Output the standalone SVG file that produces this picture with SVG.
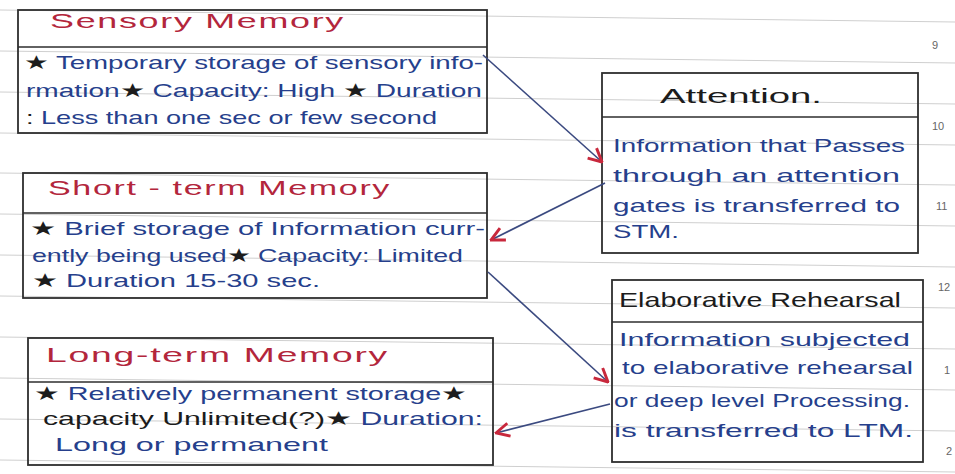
<svg xmlns="http://www.w3.org/2000/svg" width="955" height="474" viewBox="0 0 955 474">
<style>
.rule{stroke:#cfcfcf;stroke-width:1;fill:none}
.pg{font-family:"Liberation Sans",Arial,sans-serif;font-size:11px;fill:#666}
.box{fill:none;stroke:#2e2e2e;stroke-width:1.8}
.div{stroke:#2e2e2e;stroke-width:1.6}
.hd{font-family:"Liberation Sans",Arial,sans-serif;font-size:21px;fill:#b3263c;letter-spacing:1px}
.hk{font-family:"Liberation Sans",Arial,sans-serif;font-size:21px;fill:#1c1c1c}
.bd{font-family:"Liberation Sans",Arial,sans-serif;font-size:19px;fill:#263f8c}
.k{fill:#1c1c1c}
.conn{stroke:#3b4a80;stroke-width:1.6;fill:none}
</style>
<defs>
<marker id="ah" viewBox="0 0 12 12" refX="11" refY="6" markerWidth="16" markerHeight="16" markerUnits="userSpaceOnUse" orient="auto">
<path d="M1,1 L11,6 L1,11" fill="none" stroke="#c8283c" stroke-width="2.2"/>
</marker>
</defs>
<rect width="955" height="474" fill="#ffffff"/>
<g id="paper">
<line class="rule" x1="0" y1="10" x2="955" y2="22"/>
<line class="rule" x1="0" y1="51" x2="955" y2="63"/>
<line class="rule" x1="0" y1="92" x2="955" y2="104"/>
<line class="rule" x1="0" y1="133" x2="955" y2="145"/>
<line class="rule" x1="0" y1="173" x2="955" y2="185"/>
<line class="rule" x1="0" y1="214" x2="955" y2="226"/>
<line class="rule" x1="0" y1="255" x2="955" y2="267"/>
<line class="rule" x1="0" y1="296" x2="955" y2="308"/>
<line class="rule" x1="0" y1="337" x2="955" y2="349"/>
<line class="rule" x1="0" y1="378" x2="955" y2="390"/>
<line class="rule" x1="0" y1="419" x2="955" y2="431"/>
<line class="rule" x1="0" y1="460" x2="955" y2="472"/>
<text class="pg" x="932" y="49">9</text>
<text class="pg" x="932" y="130">10</text>
<text class="pg" x="936" y="210">11</text>
<text class="pg" x="938" y="291">12</text>
<text class="pg" x="944" y="374">1</text>
<text class="pg" x="946" y="455">2</text>
</g>
<g id="sensory">
<rect class="box" x="18" y="10" width="469" height="123"/>
<line class="div" x1="18" y1="47" x2="487" y2="47"/>
<text class="hd" x="50" y="28" textLength="295" lengthAdjust="spacingAndGlyphs">Sensory   Memory</text>
<text class="bd" x="24" y="69" textLength="459" lengthAdjust="spacingAndGlyphs"><tspan class="k">★</tspan> Temporary storage of sensory info-</text>
<text class="bd" x="26" y="97" textLength="456" lengthAdjust="spacingAndGlyphs">rmation<tspan class="k">★</tspan> Capacity: High <tspan class="k">★</tspan> Duration</text>
<text class="bd" x="26" y="124" textLength="411" lengthAdjust="spacingAndGlyphs"><tspan class="k">:</tspan> Less than one sec or few second</text>
</g>
<g id="stm">
<rect class="box" x="23" y="173" width="464" height="125"/>
<line class="div" x1="23" y1="213" x2="487" y2="213"/>
<text class="hd" x="48" y="195" textLength="343" lengthAdjust="spacingAndGlyphs">Short - term   Memory</text>
<text class="bd" x="30" y="235" textLength="455" lengthAdjust="spacingAndGlyphs"><tspan class="k">★</tspan> Brief storage of Information curr-</text>
<text class="bd" x="32" y="262" textLength="431" lengthAdjust="spacingAndGlyphs">ently being used<tspan class="k">★</tspan> Capacity: Limited</text>
<text class="bd" x="32" y="287" textLength="288" lengthAdjust="spacingAndGlyphs"><tspan class="k">★</tspan> Duration 15-30 sec.</text>
</g>
<g id="ltm">
<rect class="box" x="28" y="338" width="465" height="127"/>
<line class="div" x1="28" y1="382" x2="493" y2="382"/>
<text class="hd" x="46" y="362" textLength="343" lengthAdjust="spacingAndGlyphs">Long-term   Memory</text>
<text class="bd" x="34" y="400" textLength="433" lengthAdjust="spacingAndGlyphs"><tspan class="k">★</tspan> Relatively permanent storage<tspan class="k">★</tspan></text>
<text class="bd" x="43" y="425" textLength="440" lengthAdjust="spacingAndGlyphs"><tspan class="k">capacity Unlimited(?)★</tspan> Duration:</text>
<text class="bd" x="55" y="451" textLength="273" lengthAdjust="spacingAndGlyphs">Long or permanent</text>
</g>
<g id="attention">
<rect class="box" x="602" y="73" width="316" height="180"/>
<line class="div" x1="602" y1="117" x2="918" y2="117"/>
<text class="hk" x="660" y="103" textLength="162" lengthAdjust="spacingAndGlyphs">Attention.</text>
<text class="bd" x="613" y="152" textLength="292" lengthAdjust="spacingAndGlyphs">Information that Passes</text>
<text class="bd" x="613" y="182" textLength="287" lengthAdjust="spacingAndGlyphs">through an attention</text>
<text class="bd" x="613" y="212" textLength="287" lengthAdjust="spacingAndGlyphs">gates is transferred to</text>
<text class="bd" x="613" y="238" textLength="66" lengthAdjust="spacingAndGlyphs">STM.</text>
</g>
<g id="elaborative">
<rect class="box" x="612" y="280" width="311" height="182"/>
<line class="div" x1="612" y1="322" x2="923" y2="322"/>
<text class="hk" x="619" y="307" textLength="282" lengthAdjust="spacingAndGlyphs">Elaborative Rehearsal</text>
<text class="bd" x="619" y="346" textLength="291" lengthAdjust="spacingAndGlyphs">Information subjected</text>
<text class="bd" x="622" y="374" textLength="291" lengthAdjust="spacingAndGlyphs">to elaborative rehearsal</text>
<text class="bd" x="614" y="407" textLength="296" lengthAdjust="spacingAndGlyphs">or deep level Processing.</text>
<text class="bd" x="614" y="437" textLength="299" lengthAdjust="spacingAndGlyphs">is transferred to LTM.</text>
</g>
<g id="connectors">
<line class="conn" x1="483" y1="55" x2="602" y2="162" marker-end="url(#ah)"/>
<line class="conn" x1="605" y1="183" x2="491" y2="240" marker-end="url(#ah)"/>
<line class="conn" x1="488" y1="272" x2="608" y2="382" marker-end="url(#ah)"/>
<line class="conn" x1="610" y1="404" x2="496" y2="433" marker-end="url(#ah)"/>
</g>
</svg>
